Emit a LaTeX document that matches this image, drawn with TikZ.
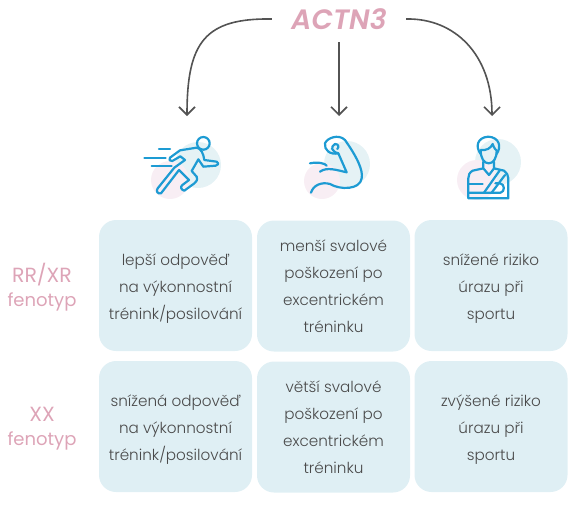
\documentclass[tikz,border=0pt]{standalone}
\usepackage{fontspec}
\setmainfont{Poppins}[UprightFont=* Light,BoldItalicFont=* SemiBold Italic]
\newfontfamily\labelfont{Poppins}
\usepackage{xcolor}
\usetikzlibrary{arrows.meta}
\definecolor{cellblue}{HTML}{DFEFF4}
\definecolor{rosetext}{HTML}{DDA4B7}
\definecolor{greytext}{HTML}{4A4A4A}
\definecolor{iconblue}{HTML}{1D9BD3}
\definecolor{haloblue}{HTML}{E5F2F5}
\definecolor{halopink}{HTML}{F8EEF4}
\tikzset{
  cell/.style={fill=cellblue, rounded corners=17pt, minimum width=153pt, minimum height=131pt, inner sep=0pt,
    align=center, text=greytext, font=\fontsize{15.2}{27}\selectfont},
  phenotype/.style={align=center, text=rosetext, font=\labelfont\fontsize{18}{24}\selectfont},
  link/.style={draw=greytext!95, line width=1.6pt, -{Straight Barb[length=8pt,width=16pt]}},
  icon/.style={draw=iconblue, line width=2.2pt, line cap=round, line join=round}
}
\newcommand{\bigcaps}[1]{{\fontsize{20.5}{24}\selectfont #1}}
\newcommand{\lowfirst}{\rule{0pt}{18pt}}
\begin{document}
\begin{tikzpicture}[x=1pt,y=-1pt]
  \useasboundingbox (0,0) rectangle (580,507);

  % Title
  \node[minimum width=134pt, minimum height=46pt, inner sep=0pt, text=rosetext, font=\fontsize{28}{28}\selectfont\bfseries\itshape] (actn) at (339,19) {ACTN3};

  % Arrow targets
  \coordinate (runtop) at (187,116);
  \coordinate (armtop) at (339,116);
  \coordinate (mantop) at (492,116);

  % Connections
  \draw[link] (actn.west) .. controls (205,18) and (187,42) .. (runtop);
  \draw[link] (actn.south) -- (armtop);
  \draw[link] (actn.east) .. controls (455,18) and (492,55) .. (mantop);

  % Icon halos
  \fill[haloblue] (198,165) circle (23);
  \fill[halopink] (170,180) circle (19);
  \fill[haloblue] (347,164) circle (23);
  \fill[halopink] (322,181) circle (18);
  \fill[haloblue] (498,162) circle (23);
  \fill[halopink] (477,180) circle (20);

  % Runner
  \begin{scope}[shift={(135,125)},scale=1/3]
    \draw[icon] (205,55) circle (19);
    \draw[icon] (72,73) -- (105,73);
    \draw[icon] (28,98) -- (92,98);
    \draw[icon] (50,122) -- (110,122);
    \draw[icon] (105,98) -- (135,76) -- (185,68) .. controls (198,70) and (205,85) .. (208,105)
      -- (245,110) .. controls (252,115) and (250,122) .. (242,122) -- (205,125) -- (190,103)
      -- (170,138) -- (185,155) .. controls (188,165) and (185,170) .. (178,175) -- (148,197)
      .. controls (138,195) and (135,185) .. (142,180) -- (162,165) -- (132,135) -- (78,205)
      .. controls (68,208) and (62,198) .. (68,190) -- (118,128) -- (150,105) -- (136,94) -- (112,108)
      .. controls (104,110) and (100,103) .. (105,98) -- cycle;
  \end{scope}

  % Flexed arm
  \begin{scope}[shift={(130,0)},scale=1/3]
    \draw[icon] (540,490) .. controls (565,485) and (585,490) .. (590,497);
    \draw[icon] (570,515) .. controls (590,500) and (620,510) .. (650,517) -- (625,460)
      .. controls (600,465) and (582,450) .. (585,430) .. controls (590,415) and (625,400) .. (645,420)
      .. controls (680,470) and (700,510) .. (695,535) .. controls (690,570) and (630,570) .. (600,552)
      .. controls (575,545) and (550,555) .. (543,578);
    \draw[icon] (625,460) .. controls (605,455) and (600,440) .. (615,432) .. controls (625,432) and (628,440) .. (622,447);
  \end{scope}

  % Person with sling
  \begin{scope}[shift={(130,0)},scale=1/3]
    \draw[icon] (1052,462) .. controls (1035,440) and (1042,412) .. (1075,410) .. controls (1108,412) and (1115,440) .. (1100,462);
    \draw[icon] (1052,450) .. controls (1070,452) and (1082,445) .. (1088,432) .. controls (1092,445) and (1098,450) .. (1100,452)
      .. controls (1100,475) and (1090,490) .. (1076,490) .. controls (1062,490) and (1052,475) .. (1052,450);
    \draw[icon] (1060,485) -- (1060,505) -- (1077,525) -- (1092,505) -- (1092,485);
    \draw[icon] (1060,505) -- (1028,512) .. controls (1018,518) and (1015,525) .. (1015,535) -- (1015,595) -- (1135,595) -- (1135,535)
      .. controls (1135,525) and (1130,518) .. (1122,512) -- (1092,505);
    \draw[icon] (1110,510) -- (1062,578);
    \draw[icon] (1125,525) -- (1085,578);
    \draw[icon] (1015,552) -- (1058,552);
    \draw[icon] (1015,578) -- (1112,578) .. controls (1125,575) and (1125,552) .. (1110,550) -- (1096,550);
  \end{scope}

  % Row labels
  \node[phenotype] (rr) at (42,287) {\bigcaps{RR/XR}\\fenotyp};
  \node[phenotype] (xx) at (42,429) {\bigcaps{XX}\\fenotyp};

  % First row
  \node[cell] (a1) at (175.5,285.5) {\lowfirst lepší odpověď\\na výkonnostní\\trénink/posilování};
  \node[cell] (b1) at (333.5,286) {menší svalové\\poškození po\\excentrickém\\tréninku};
  \node[cell] (c1) at (491,285.5) {\lowfirst snížené riziko\\úrazu při\\sportu};

  % Second row
  \node[cell] (a2) at (175.5,426.5) {\lowfirst snížená odpověď\\na výkonnostní\\trénink/posilování};
  \node[cell] (b2) at (333.5,427) {větší svalové\\poškození po\\excentrickém\\tréninku};
  \node[cell] (c2) at (491,426.5) {\lowfirst zvýšené riziko\\úrazu při\\sportu};
\end{tikzpicture}
\end{document}
